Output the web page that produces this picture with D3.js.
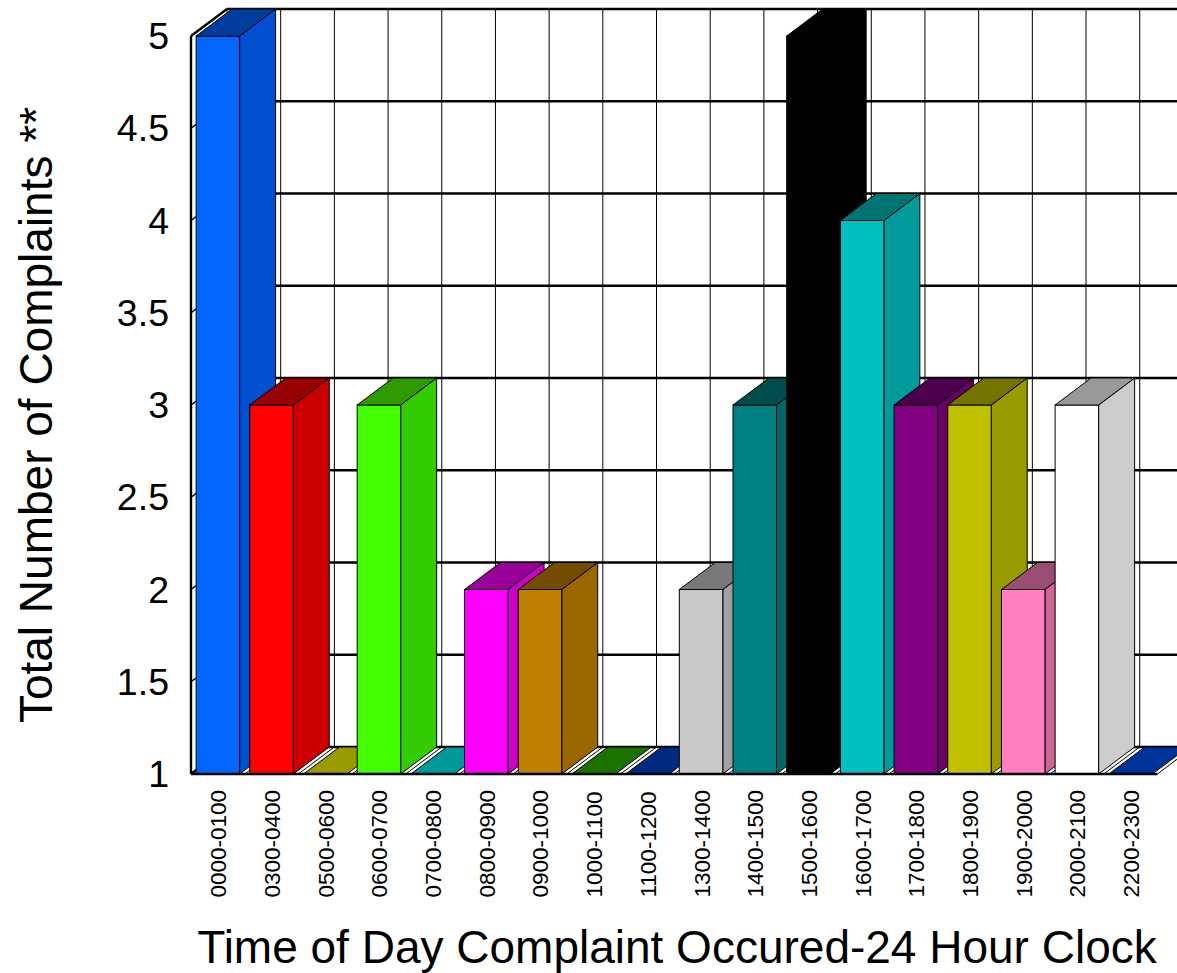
<!DOCTYPE html>
<html><head><meta charset="utf-8">
<style>html,body{margin:0;padding:0;background:#fff}svg{display:block;font-family:"Liberation Sans",Arial,sans-serif}</style>
<script src="https://d3js.org/d3.v7.min.js"></script>
</head><body><svg id="c" width="1177" height="973"></svg>
<script>
const categories=["0000-0100","0300-0400","0500-0600","0600-0700","0700-0800","0800-0900","0900-1000","1000-1100","1100-1200","1300-1400","1400-1500","1500-1600","1600-1700","1700-1800","1800-1900","1900-2000","2000-2100","2200-2300"];
const complaints=[5,3,1,3,1,2,2,1,1,2,3,5,4,3,3,2,3,1];
const frontColors=["#0066ff","#ff0000","#cccc00","#44ff00","#00cccc","#ff00ff","#bf7f00","#229900","#003399","#c8c8c8","#008080","#000000","#00c0c0","#800080","#c0c000","#ff80c0","#ffffff","#003399"];
const sideColors=["#0050d0","#cc0000","#a6a600","#33cc00","#00a6a6","#cc00cc","#996600","#1a7a00","#002a80","#a0a0a0","#006666","#000000","#009a9a","#660066","#999900","#cc6699","#cccccc","#002a80"];
const topColors=["#003c9c","#990000","#999900","#2f9900","#009999","#990099","#734c00","#1a7300","#002a80","#787878","#004d4d","#000000","#007373","#4d004d","#737300","#994d73","#999999","#003399"];
const yTicks=[1,1.5,2,2.5,3,3.5,4,4.5,5];
const yTickLabels=["1","1.5","2","2.5","3","3.5","4","4.5","5"];
const yTitle="Total Number of Complaints **";
const xTitle="Time of Day Complaint Occured-24 Hour Clock";

const depthX=36, depthY=-27;
const svg=d3.select("#c");
const y=d3.scaleLinear().domain([1,5]).range([774,36]);
const x=d3.scaleBand().domain(categories).range([191,1157.4]).paddingInner(0.19).paddingOuter(0.095);
const step=x.step(), bw=x.bandwidth();
const pts=a=>a.map(p=>p.join(",")).join(" ");
const line=(x1,y1,x2,y2,w)=>svg.append("line").attr("x1",x1).attr("y1",y1).attr("x2",x2).attr("y2",y2).attr("stroke","#000").attr("stroke-width",w);

// back wall: horizontal grid
yTicks.forEach(v=>line(191+depthX,y(v)+depthY,1177,y(v)+depthY,2.4));
// back wall: verticals
d3.range(0,19).forEach(i=>line(191+depthX+i*step,y(5)+depthY,191+depthX+i*step,y(1)+depthY,1));
// left wall and floor diagonals
yTicks.forEach(v=>line(191,y(v),191+depthX,y(v)+depthY,v===5||v===1?2.4:1.5));
d3.range(1,19).forEach(i=>line(191+i*step,y(1),191+i*step+depthX,y(1)+depthY,1));
line(191,y(5),191,y(1),2.4);

// bars
categories.forEach((c,i)=>{
  const x0=x(c), x1=x0+bw, t=y(complaints[i]), b=y(1);
  const g=svg.append("g").attr("stroke","#000").attr("stroke-width",1).attr("stroke-linejoin","miter");
  if(complaints[i]>1){
    g.append("polygon").attr("points",pts([[x1,t],[x1+depthX,t+depthY],[x1+depthX,b+depthY],[x1,b]])).attr("fill",sideColors[i]);
    g.append("rect").attr("x",x0).attr("y",t).attr("width",bw).attr("height",b-t).attr("fill",frontColors[i]);
  }
  g.append("polygon").attr("points",pts([[x0,t],[x1,t],[x1+depthX,t+depthY],[x0+depthX,t+depthY]])).attr("fill",topColors[i]);
});
// floor front edge
line(191,y(1),1157.4,y(1),2.4);

// y axis labels
svg.append("g").selectAll("text").data(yTicks).join("text")
  .attr("x",169).attr("y",d=>y(d)+13).attr("text-anchor","end")
  .attr("font-size",37.5).attr("fill","#000").text((d,i)=>yTickLabels[i]);
// x axis labels
svg.append("g").selectAll("text").data(categories).join("text")
  .attr("transform",d=>`translate(${x(d)+bw/2+8.5},897.5) rotate(-90)`)
  .attr("font-size",22.5).attr("fill","#000").text(d=>d);
// titles
svg.append("text").attr("transform","translate(51.5,415) rotate(-90)").attr("text-anchor","middle")
  .attr("font-size",46).attr("fill","#000").text(yTitle);
svg.append("text").attr("x",677).attr("y",963).attr("text-anchor","middle")
  .attr("font-size",46).attr("fill","#000").text(xTitle);
</script></body></html>
